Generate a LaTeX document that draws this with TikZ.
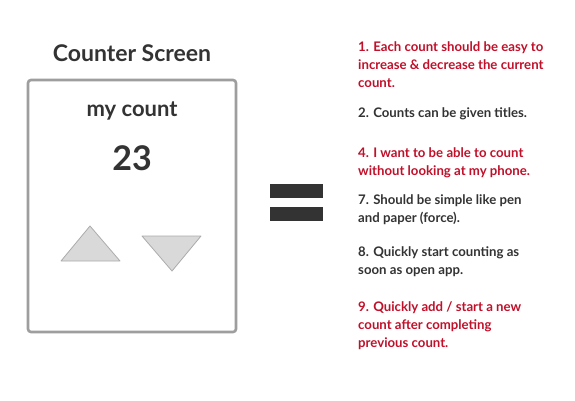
\documentclass[tikz,border=0pt]{standalone}
\usepackage{fontspec}
\setmainfont{Lato}
\definecolor{inkdark}{HTML}{333333}
\definecolor{inkred}{HTML}{C0102A}
\definecolor{framegray}{HTML}{9E9E9E}
\definecolor{knobfill}{HTML}{D9D9D9}
\definecolor{knobline}{HTML}{ABABAB}
\tikzset{
  note/.style={anchor=base west,inner sep=0pt,align=left,
    font=\fontsize{13.2}{17.8}\selectfont\bfseries},
  knob/.style={fill=knobfill,draw=knobline,line width=0.8pt,line join=round}
}
\begin{document}
\begin{tikzpicture}[x=1pt,y=-1pt]
  \useasboundingbox[fill=white] (0,0) rectangle (575,400);
  % the counter screen
  \node[anchor=base,inner sep=0pt,text=inkdark,font=\fontsize{23}{26}\selectfont\bfseries] (title) at (132,61) {Counter Screen};
  \draw[framegray,line width=2.6pt,rounded corners=3pt] (28,80) rectangle (236,332);
  \node[anchor=base,inner sep=0pt,text=inkdark,font=\fontsize{22}{25}\selectfont\bfseries] (name) at (132,116) {my count};
  \node[anchor=base,inner sep=0pt,text=inkdark,font=\fontsize{34}{38}\selectfont\bfseries] (value) at (132,170) {23};
  \draw[knob] (90,226) -- (120,261) -- (61,261) -- cycle;
  \draw[knob] (142,236) -- (201,236) -- (172,271) -- cycle;
  % equals sign
  \fill[inkdark] (270,184) rectangle (323,198);
  \fill[inkdark] (270,207) rectangle (323,221);
  % requirements (anchored on the last line)
  \node[note,text=inkred] (req1) at (358,87) {1. Each count should be easy to\\increase \& decrease the current\\count.};
  \node[note,text=inkdark] (req2) at (358,117) {2. Counts can be given titles.};
  \node[note,text=inkred] (req4) at (358,175) {4. I want to be able to count\\without looking at my phone.};
  \node[note,text=inkdark] (req7) at (358,222) {7. Should be simple like pen\\and paper (force).};
  \node[note,text=inkdark] (req8) at (358,274) {8. Quickly start counting as\\soon as open app.};
  \node[note,text=inkred] (req9) at (358,347) {9. Quickly add / start a new\\count after completing\\previous count.};
\end{tikzpicture}
\end{document}
